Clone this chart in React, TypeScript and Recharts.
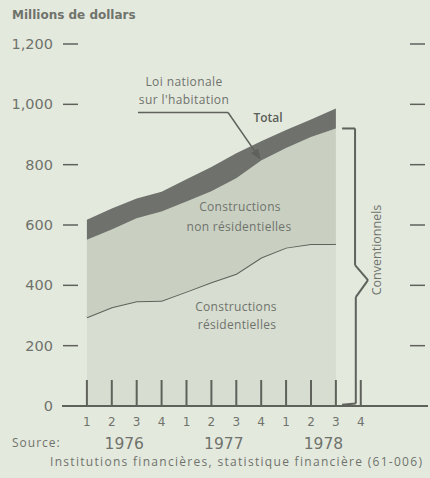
import { AreaChart, Area, XAxis, YAxis, ReferenceLine } from 'recharts';

// quarterly mortgage loans, millions of dollars (Q1 1976 .. Q3 1978)
const quarterLabels = ['1', '2', '3', '4', '1', '2', '3', '4', '1', '2', '3', '4'];
const years = ['1976', '1977', '1978'];
const residential = [294, 327, 347, 349, 379, 410, 438, 492, 525, 537, 537];
const conventional = [551, 585, 622, 645, 678, 712, 755, 814, 855, 892, 920];
const total = [617, 655, 688, 710, 752, 792, 838, 878, 915, 950, 986];
const yTicks = [0, 200, 400, 600, 800, 1000, 1200];

const data = residential.map((r, i) => ({
  i,
  res: r,
  nonres: conventional[i] - r,
  nha: total[i] - conventional[i],
}));

const ink = '#5e625b';
const textColor = '#6f736c';
const bg = '#e4e9de';

function YTick({ y, payload }: any) {
  const v = payload.value as number;
  return (
    <g>
      <text
        x={53}
        y={y + 5}
        textAnchor="end"
        fontFamily="DejaVu Sans"
        fontSize={14.5}
        fill={textColor}
      >
        {v.toLocaleString('en-US')}
      </text>
      {v > 0 && (
        <>
          <line x1={63} x2={78} y1={y} y2={y} stroke={ink} strokeWidth={1.5} />
          <line x1={410} x2={425} y1={y} y2={y} stroke={ink} strokeWidth={1.5} />
        </>
      )}
    </g>
  );
}

function XTick({ x, payload }: any) {
  const i = payload.value as number;
  const yearIdx = Math.floor(i / 4);
  return (
    <g>
      <line x1={x} x2={x} y1={406} y2={380} stroke={ink} strokeWidth={2} />
      <text
        x={x}
        y={426}
        textAnchor="middle"
        fontFamily="DejaVu Sans"
        fontSize={12}
        fill={textColor}
      >
        {quarterLabels[i]}
      </text>
      {i % 4 === 1 && (
        <text
          x={x + 12.45}
          y={449}
          textAnchor="middle"
          fontFamily="DejaVu Sans"
          fontSize={15.5}
          fill={textColor}
        >
          {years[yearIdx]}
        </text>
      )}
    </g>
  );
}

export default function App() {
  const top = conventional[conventional.length - 1];
  const xs = 10.77;
  const tip = 11.29;
  const mid = 417;
  const bracket = [
    [{ x: 10.25, y: top }, { x: xs, y: top }],
    [{ x: xs, y: top }, { x: xs, y: mid + 50 }],
    [{ x: xs, y: mid + 50 }, { x: tip, y: mid }],
    [{ x: tip, y: mid }, { x: xs + 0.03, y: mid - 56 }],
    [{ x: xs + 0.03, y: mid - 56 }, { x: xs + 0.03, y: 8 }],
    [{ x: xs + 0.03, y: 8 }, { x: 10.25, y: 4 }],
  ];
  const arrow = [
    [{ x: 2.05, y: 973 }, { x: 5.67, y: 973 }],
    [{ x: 5.67, y: 973 }, { x: 6.95, y: conventional[7] + 6 }],
  ];

  return (
    <div
      style={{
        position: 'absolute',
        left: 0,
        top: 0,
        width: 430,
        height: 478,
        background: bg,
        overflow: 'hidden',
      }}
    >
      <AreaChart
        width={430}
        height={478}
        data={data}
        margin={{ top: 44, right: 2, bottom: 0, left: 0 }}
      >
        <defs>
          <marker
            id="arrowHead"
            viewBox="0 0 10 10"
            refX="9"
            refY="5"
            markerWidth="7"
            markerHeight="7"
            orient="auto"
          >
            <path d="M0,1 L10,5 L0,9 z" fill={ink} />
          </marker>
        </defs>
        <YAxis
          domain={[0, 1200]}
          ticks={yTicks}
          width={62}
          axisLine={false}
          tickLine={false}
          tick={<YTick />}
        />
        <Area
          type="linear"
          dataKey="res"
          stackId="a"
          stroke={ink}
          strokeWidth={2}
          fill="#d7ddd0"
          fillOpacity={1}
          dot={false}
          isAnimationActive={false}
        />
        <Area
          type="linear"
          dataKey="nonres"
          stackId="a"
          stroke="none"
          fill="#c9d0c2"
          fillOpacity={1}
          dot={false}
          isAnimationActive={false}
        />
        <Area
          type="linear"
          dataKey="nha"
          stackId="a"
          stroke="none"
          fill="#6e716c"
          fillOpacity={1}
          dot={false}
          isAnimationActive={false}
        />
        <XAxis
          type="number"
          dataKey="i"
          domain={[-1, 13.7]}
          ticks={quarterLabels.map((_, i) => i)}
          interval={0}
          height={72}
          axisLine={{ stroke: ink, strokeWidth: 2 }}
          tickLine={false}
          tick={<XTick />}
          allowDataOverflow
        />
        {bracket.map((seg, k) => (
          <ReferenceLine
            key={'b' + k}
            segment={seg}
            stroke={ink}
            strokeWidth={2}
            ifOverflow="visible"
          />
        ))}
        {arrow.map((seg, k) => (
          <ReferenceLine
            key={'a' + k}
            segment={seg}
            stroke={ink}
            strokeWidth={1.5}
            ifOverflow="visible"
            markerEnd={k === 1 ? 'url(#arrowHead)' : undefined}
          />
        ))}
      </AreaChart>
      <svg
        width={430}
        height={478}
        style={{ position: 'absolute', left: 0, top: 0, pointerEvents: 'none' }}
        fontFamily="Open Sans"
        fill={textColor}
      >
        <text x={12} y={19} fontFamily="DejaVu Sans" fontWeight="bold" fontSize={12}>
          Millions de dollars
        </text>
        <text x={184} y={86} textAnchor="middle" fontSize={12} letterSpacing={0.4}>
          Loi nationale
        </text>
        <text x={184} y={104} textAnchor="middle" fontSize={12} letterSpacing={0.4}>
          sur l'habitation
        </text>
        <text x={268} y={122} textAnchor="middle" fontSize={12} fontWeight={600} fill="#5a5e57">
          Total
        </text>
        <text x={240} y={211} textAnchor="middle" fontSize={12} letterSpacing={0.3}>
          Constructions
        </text>
        <text x={239} y={231} textAnchor="middle" fontSize={12} letterSpacing={0.3}>
          non résidentielles
        </text>
        <text x={236} y={311} textAnchor="middle" fontSize={12} letterSpacing={0.3}>
          Constructions
        </text>
        <text x={237} y={329} textAnchor="middle" fontSize={12} letterSpacing={0.3}>
          résidentielles
        </text>
        <text
          x={376}
          y={250}
          textAnchor="middle"
          dominantBaseline="central"
          fontSize={12.5}
          transform="rotate(-90 376 250)"
        >
          Conventionnels
        </text>
        <text x={12} y={447} fontSize={12} letterSpacing={1}>
          Source:
        </text>
        <text x={50} y={466} fontSize={12} letterSpacing={1.3}>
          Institutions financières, statistique financière (61-006)
        </text>
      </svg>
    </div>
  );
}
